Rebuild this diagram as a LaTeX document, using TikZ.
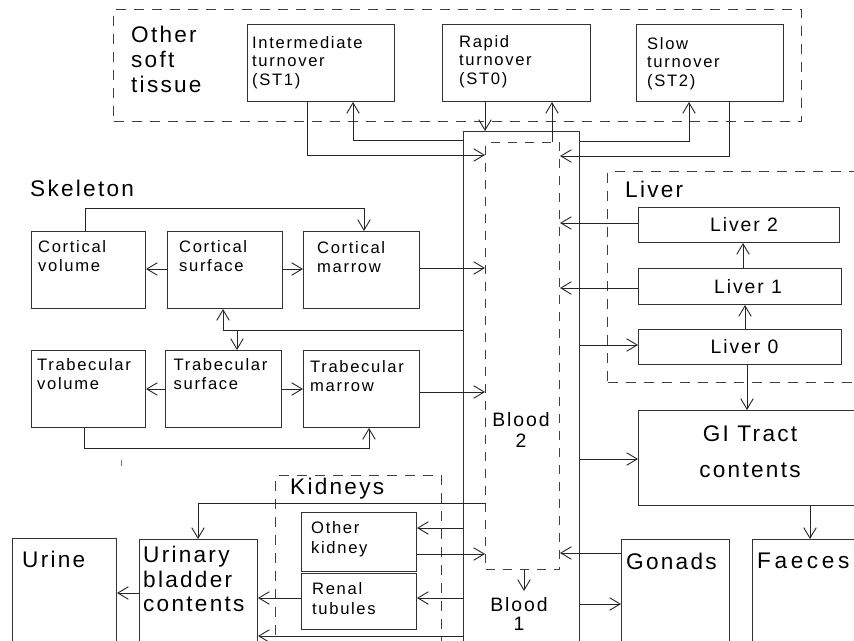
\documentclass[tikz,border=0pt]{standalone}
\usepackage{fontspec}
\setmainfont[LetterSpace=10]{Liberation Sans}
\newfontfamily\widefont[LetterSpace=16]{Liberation Sans}
\usetikzlibrary{arrows.meta}
\tikzset{
  box/.style={draw=black!80, line width=1pt, rectangle, inner sep=0pt, anchor=north west},
  grp/.style={draw=black!75, line width=1pt, dash pattern=on 10pt off 8pt, rectangle, inner sep=0pt, anchor=north west},
  arr/.style={draw=black!85, line width=0.9pt, -{Straight Barb[length=10.5pt,width=12.5pt]}},
  lblS/.style={font=\fontsize{16.6}{18.5}\selectfont, align=left, inner sep=0pt, anchor=north west},
  lblM/.style={font=\fontsize{19.4}{21}\selectfont, inner sep=0pt},
  lblL/.style={font=\fontsize{22.6}{25}\selectfont, align=left, inner sep=0pt, anchor=north west},
}
\begin{document}
\begin{tikzpicture}[x=1pt,y=-1pt]
\clip (0,0) rectangle (854,640);
\fill[white] (0,0) rectangle (854,640);

% groups
\node[grp, minimum width=688pt, minimum height=112pt] (ostg) at (113,9) {};
\node[grp, minimum width=263pt, minimum height=211pt] (livg) at (607,171) {};
\node[grp, minimum width=166pt, minimum height=185pt] (kidg) at (275,475) {};

% boxes
\node[box, minimum width=147pt, minimum height=77pt] (st1) at (247,24) {};
\node[box, minimum width=148pt, minimum height=77pt] (st0) at (442,24) {};
\node[box, minimum width=147pt, minimum height=77pt] (st2) at (636,24) {};
\node[box, minimum width=116pt, minimum height=529pt] (blood) at (463,131) {};
\node[grp, dash pattern=on 9pt off 8pt, minimum width=74pt, minimum height=427pt] (b2) at (485,142) {};

\node[box, minimum width=114pt, minimum height=77pt] (cv) at (31,231) {};
\node[box, minimum width=115pt, minimum height=77pt] (cs) at (167,231) {};
\node[box, minimum width=116pt, minimum height=77pt] (cm) at (303,231) {};
\node[box, minimum width=114pt, minimum height=77pt] (tv) at (31,350) {};
\node[box, minimum width=116pt, minimum height=77pt] (ts) at (165,350) {};
\node[box, minimum width=116pt, minimum height=77pt] (tm) at (303,350) {};

\node[box, minimum width=201pt, minimum height=35pt] (l2) at (638,207) {};
\node[box, minimum width=203pt, minimum height=36pt] (l1) at (638,268) {};
\node[box, minimum width=203pt, minimum height=35pt] (l0) at (638,329) {};
\node[box, minimum width=232pt, minimum height=95pt] (gi) at (638,410) {};
\node[box, minimum width=118pt, minimum height=121pt] (fa) at (752,539) {};
\node[box, minimum width=108pt, minimum height=121pt] (go) at (621,539) {};

\node[box, minimum width=115pt, minimum height=59pt] (ok) at (301,512) {};
\node[box, minimum width=115pt, minimum height=56pt] (rt) at (301,573) {};
\node[box, minimum width=118pt, minimum height=121pt] (ub) at (139,539) {};
\node[box, minimum width=104pt, minimum height=122pt] (ur) at (12,538) {};

% labels
\node[lblL] (ostt) at (131,26) {Other\\soft\\tissue};
\node[lblS] (st1t) at (252,36) {Intermediate\\turnover\\(ST1)};
\node[lblS] (st0t) at (459,35) {Rapid\\turnover\\(ST0)};
\node[lblS] (st2t) at (647,37) {Slow\\turnover\\(ST2)};
\node[lblL] (skt) at (30,179.5) {Skeleton};
\node[lblS, font=\fontsize{16.6}{19}\selectfont] (cvt) at (38,240) {Cortical\\volume};
\node[lblS, font=\fontsize{16.6}{19}\selectfont] (cst) at (179,240) {Cortical\\surface};
\node[lblS, font=\fontsize{16.6}{19}\selectfont] (cmt) at (317,241) {Cortical\\marrow};
\node[lblS, font=\fontsize{16.6}{19}\selectfont] (tvt) at (37,358.5) {Trabecular\\volume};
\node[lblS, font=\fontsize{16.6}{19}\selectfont] (tst) at (173.5,358.5) {Trabecular\\surface};
\node[lblS, font=\fontsize{16.6}{19}\selectfont] (tmt) at (310,360) {Trabecular\\marrow};
\node[lblL] (livt) at (625,181) {Liver};
\node[lblM] (l2t) at (744,225) {Liver 2};
\node[lblM] (l1t) at (748,286.3) {Liver 1};
\node[lblM] (l0t) at (744.5,346.7) {Liver 0};
\node[lblL, font=\fontsize{22.6}{35.5}\selectfont, align=center, anchor=north] (git) at (750,426) {GI Tract\\contents};
\node[lblM, font=\fontsize{19.4}{21.5}\selectfont, align=center, anchor=north] (b2t) at (521,412) {Blood\\2};
\node[lblM, font=\fontsize{19.4}{19.5}\selectfont, align=center, anchor=north] (b1t) at (519,597) {Blood\\1};
\node[lblL] (kidt) at (290,478) {Kidneys};
\node[lblS, font=\fontsize{16.6}{20.5}\selectfont] (okt) at (311,521) {Other\\kidney};
\node[lblS, font=\fontsize{16.6}{20}\selectfont] (rtt) at (312,582) {Renal\\tubules};
\node[lblL, font=\fontsize{22.6}{24.5}\selectfont] (ubt) at (143,546) {Urinary\\bladder\\contents};
\node[lblL] (urt) at (22,551) {Urine};
\node[lblL] (got) at (626,553) {Gonads};
\node[lblL, font=\widefont\fontsize{22.6}{25}\selectfont] (fat) at (757,553) {Faeces};

\coordinate (b1in) at (524,591);

% other soft tissue connectors
\draw[arr] (st1.south -| 307,0) -- (307,155) -- (b2.west |- 0,155);
\draw[arr] (blood.west |- 0,140) -| (st1.south -| 353,0);
\draw[arr] (st0.south -| 485,0) -- (blood.north -| 485,0);
\draw[arr] (b2.north -| 552,0) -- (st0.south -| 552,0);
\draw[arr] (blood.east |- 0,141) -| (st2.south -| 689,0);
\draw[arr] (st2.south -| 729,0) |- (b2.east |- 0,156);

% skeleton connectors
\draw[arr] (cv.north -| 85,0) -- (85,208) -- (364,208) -- (cm.north -| 364,0);
\draw[arr] (cs.west |- 0,269) -- (cv.east |- 0,269);
\draw[arr] (cs.east |- 0,269) -- (cm.west |- 0,269);
\draw[arr] (cm.east |- 0,268) -- (b2.west |- 0,268);
\draw[arr] (blood.west |- 0,330) -| (cs.south -| 223,0);
\draw[arr] (237,330) -- (ts.north -| 237,0);
\draw[arr] (ts.west |- 0,389) -- (tv.east |- 0,389);
\draw[arr] (ts.east |- 0,389) -- (tm.west |- 0,389);
\draw[arr] (tm.east |- 0,392) -- (b2.west |- 0,392);
\draw[arr] (tv.south -| 84,0) -- (84,448) -- (369,448) -- (tm.south -| 369,0);
\draw[black!55, line width=0.8pt] (121,460) -- (121,466);

% liver connectors
\draw[arr] (l2.west |- 0,223) -- (b2.east |- 0,223);
\draw[arr] (l1.west |- 0,288) -- (b2.east |- 0,288);
\draw[arr] (blood.east |- 0,345) -- (l0.west |- 0,345);
\draw[arr] (l1.north -| 743,0) -- (l2.south -| 743,0);
\draw[arr] (l0.north -| 745,0) -- (l1.south -| 745,0);
\draw[arr] (l0.south -| 747,0) -- (gi.north -| 747,0);

% GI, gonads
\draw[arr] (blood.east |- 0,459) -- (gi.west |- 0,459);
\draw[arr] (gi.south -| 810,0) -- (fa.north -| 810,0);
\draw[arr] (go.west |- 0,553) -- (b2.east |- 0,553);
\draw[arr] (blood.east |- 0,604) -- (go.west |- 0,604);
\draw[arr] (b2.south -| 524,0) -- (b1in);

% kidneys, bladder
\draw[arr] (b2.west |- 0,503) -- (198,503) -- (ub.north -| 198,0);
\draw[arr] (blood.west |- 0,528) -- (ok.east |- 0,528);
\draw[arr] (ok.east |- 0,554) -- (b2.west |- 0,554);
\draw[arr] (blood.west |- 0,598) -- (rt.east |- 0,598);
\draw[arr] (rt.west |- 0,598) -- (ub.east |- 0,598);
\draw[arr] (blood.west |- 0,636) -- (ub.east |- 0,636);
\draw[arr] (ub.west |- 0,593) -- (ur.east |- 0,593);
\end{tikzpicture}
\end{document}
